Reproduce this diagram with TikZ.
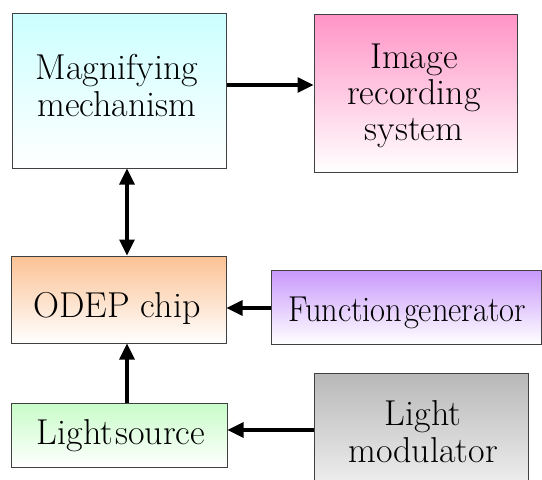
\documentclass[tikz,border=0pt]{standalone}
\usepackage{fontspec}
\usetikzlibrary{arrows.meta}
\definecolor{boxline}{HTML}{404040}
\definecolor{cyanT}{HTML}{CCFFFF}
\definecolor{pinkT}{HTML}{FF94C6}
\definecolor{orangeT}{HTML}{FBC294}
\definecolor{purpleT}{HTML}{C898FC}
\definecolor{greenT}{HTML}{C8FCC8}
\definecolor{grayT}{HTML}{B8B8B8}
\tikzset{
  box/.style={draw=boxline, line width=1pt, inner sep=0pt, bottom color=white},
  lbl/.style={font=\rmfamily\fontsize{36}{37.5}\selectfont, align=center, inner sep=0pt, text=black},
  conn/.style={line width=3.2pt, -{Triangle[length=16pt,width=15pt]}},
  dconn/.style={line width=3.2pt, {Triangle[length=16pt,width=15pt]}-{Triangle[length=16pt,width=15pt]}},
}
\begin{document}
\begin{tikzpicture}[x=1pt, y=-1pt]
\useasboundingbox (0,0) rectangle (542,480);
\clip (0,0) rectangle (542,480);
% boxes
\node[box, top color=cyanT, minimum width=214pt, minimum height=155pt] (mag) at (119,90.5) {};
\node[box, top color=pinkT, minimum width=203pt, minimum height=158pt] (img) at (415.5,93) {};
\node[box, top color=orangeT, minimum width=215pt, minimum height=87pt] (odep) at (118.5,299.5) {};
\node[box, top color=purpleT, minimum width=270pt, minimum height=74pt] (fg) at (406,307) {};
\node[box, top color=greenT, minimum width=216pt, minimum height=64pt] (ls) at (119,435) {};
\node[box, top color=grayT, minimum width=214pt, minimum height=147pt] (lm) at (421,446.5) {};
% texts
\node[lbl] (magt) at (117,85.5) {Magnifying\\mechanism};
\node[lbl, font=\rmfamily\fontsize{36}{36}\selectfont] (imgt) at (414,95.5) {Image\\recording\\system};
\node[lbl] (odept) at (117,308) {ODEP chip};
\node[lbl] (fgt) at (407,313) {\scalebox{0.9}[1]{Function\hspace{2pt}generator}};
\node[lbl] (lst) at (121,436) {Light\hspace{2pt}source};
\node[lbl] (lmt) at (423,431.5) {Light\\modulator};
% connectors
\draw[conn] (mag.east |- 0,85) -- (img.west |- 0,85);
\draw[dconn] (mag.south -| 127,0) -- (odep.north -| 127,0);
\draw[conn] (fg.west |- 0,308) -- (odep.east |- 0,308);
\draw[conn] (ls.north -| 127,0) -- (odep.south -| 127,0);
\draw[conn] (lm.west |- 0,430) -- (ls.east |- 0,430);
\end{tikzpicture}
\end{document}
